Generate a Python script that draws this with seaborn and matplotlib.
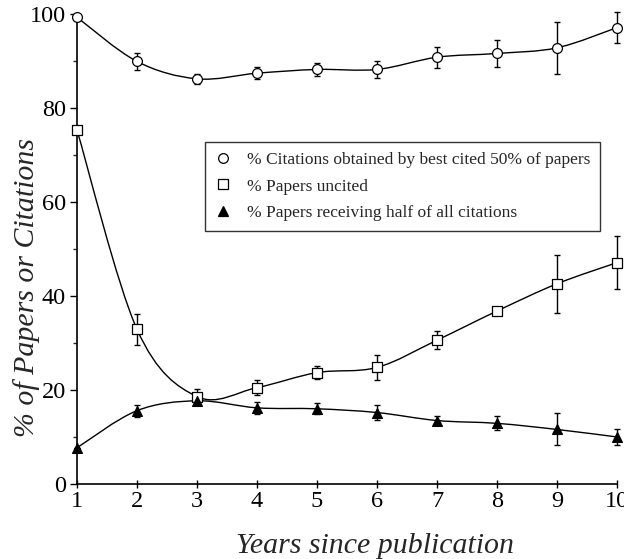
import numpy as np
import pandas as pd
import matplotlib
matplotlib.use("Agg")
import matplotlib.pyplot as plt
from matplotlib.path import Path
from matplotlib.patches import PathPatch
from matplotlib.lines import Line2D
import seaborn as sns

years = [1, 2, 3, 4, 5, 6, 7, 8, 9, 10]
cit_best50 = [99.3, 89.9, 86.2, 87.4, 88.2, 88.2, 90.8, 91.6, 92.8, 97.1]
cit_best50_err = [0.0, 1.8, 1.1, 1.3, 1.3, 1.9, 2.2, 2.9, 5.5, 3.3]
uncited = [75.3, 32.9, 18.6, 20.5, 23.7, 24.8, 30.6, 36.8, 42.6, 47.1]
uncited_err = [0.0, 3.3, 1.6, 1.6, 1.3, 2.6, 1.9, 0.9, 6.2, 5.7]
half_cit = [7.7, 15.6, 17.7, 16.2, 16.0, 15.2, 13.5, 12.9, 11.6, 10.0]
half_cit_err = [0.0, 1.3, 1.0, 1.3, 1.2, 1.5, 1.0, 1.5, 3.4, 1.7]
labels = ["% Citations obtained by best cited 50% of papers",
          "% Papers uncited",
          "% Papers receiving half of all citations"]

sns.set_style("ticks")
plt.rcParams['font.family'] = ['Liberation Serif', 'DejaVu Serif']
plt.rcParams['mathtext.fontset'] = 'stix'

fig = plt.figure(figsize=(6.24, 5.59), dpi=100)
ax = fig.add_axes([0.1234, 0.1342, 0.8654, 0.8408])


def smooth_path(xs, ys):
    pts = np.column_stack([xs, ys]).astype(float)
    n = len(pts)
    verts = [pts[0]]
    codes = [Path.MOVETO]
    for i in range(n - 1):
        p0 = pts[max(i - 1, 0)]
        p1 = pts[i]
        p2 = pts[i + 1]
        p3 = pts[min(i + 2, n - 1)]
        c1 = p1 + (p2 - p0) / 6.0
        c2 = p2 - (p3 - p1) / 6.0
        verts += [c1, c2, p2]
        codes += [Path.CURVE4] * 3
    return Path(verts, codes)


series = [
    (cit_best50, cit_best50_err, 'o', 'white'),
    (uncited, uncited_err, 's', 'white'),
    (half_cit, half_cit_err, '^', 'black'),
]

for vals, errs, mk, fc in series:
    ax.add_patch(PathPatch(smooth_path(years, vals), facecolor='none',
                           edgecolor='black', lw=1.0, zorder=2))
    ax.errorbar(years, vals, yerr=errs, fmt='none', ecolor='black',
                elinewidth=1.0, capsize=2.5, capthick=1.0, zorder=3,
                clip_on=False)
    df = pd.DataFrame({'x': years, 'y': vals})
    sns.scatterplot(data=df, x='x', y='y', marker=mk, color=fc,
                    edgecolor='black', linewidth=0.9, s=50, ax=ax,
                    zorder=4, clip_on=False)

ax.set_xlim(1, 10)
ax.set_ylim(0, 100)
ax.set_xticks(years)
ax.set_yticks([0, 20, 40, 60, 80, 100])
ax.set_yticks([10, 30, 50, 70, 90], minor=True)
sns.despine(ax=ax)
for s in ['left', 'bottom']:
    ax.spines[s].set_linewidth(1.2)
    ax.spines[s].set_color('black')
ax.tick_params(axis='both', which='major', labelsize=17.5, colors='black',
               width=1.0, length=5)
ax.tick_params(axis='x', which='major', direction='inout', length=6, pad=2)
ax.tick_params(axis='y', which='major', direction='out', length=5, pad=3)
ax.tick_params(axis='y', which='minor', direction='out', length=3, width=1.0)

ax.set_xlabel('Years since publication', fontsize=21.5, style='italic')
ax.xaxis.set_label_coords(0.552, -0.104)
ax.set_ylabel('% of Papers or Citations', fontsize=21.5, style='italic')
ax.yaxis.set_label_coords(-0.068, 0.417)

handles = [
    Line2D([], [], marker='o', ls='none', mfc='white', mec='black', ms=7, mew=0.9),
    Line2D([], [], marker='s', ls='none', mfc='white', mec='black', ms=7, mew=0.9),
    Line2D([], [], marker='^', ls='none', mfc='black', mec='black', ms=7, mew=0.9),
]
leg = ax.legend(handles, labels, loc='upper left',
                bbox_to_anchor=(0.237, 0.7277), borderaxespad=0,
                fontsize=12.5,
                frameon=True, fancybox=False, edgecolor='black',
                handlelength=1.0, handletextpad=0.85, borderpad=0.55,
                labelspacing=0.62)
leg.get_frame().set_linewidth(1.0)

fig.savefig('out.png', dpi=100)
